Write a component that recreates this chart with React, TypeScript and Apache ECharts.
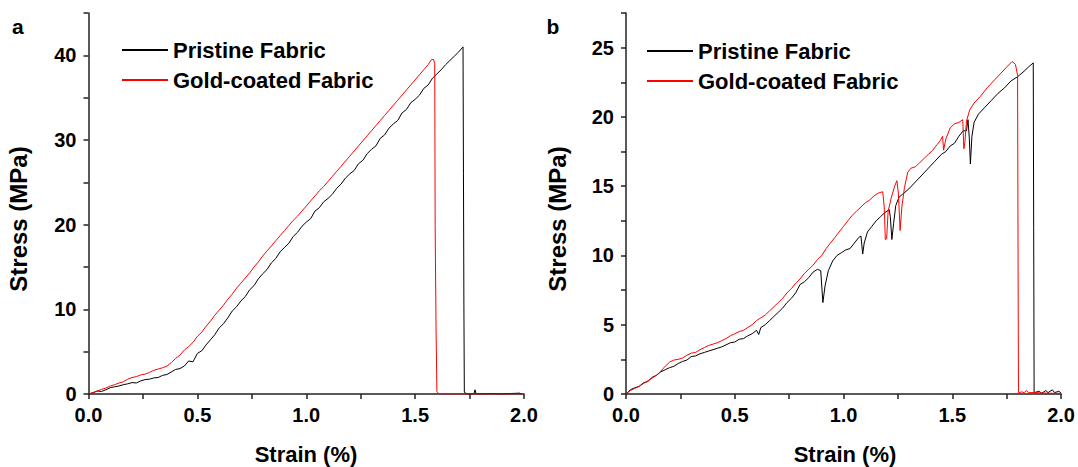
import React, { useEffect, useRef } from "react";
import * as echarts from "echarts";

const FONT = '"Liberation Sans", Arial, Helvetica, sans-serif';

const seriesNames = ["Pristine Fabric", "Gold-coated Fabric"];
const xTickLabels = ["0.0", "0.5", "1.0", "1.5", "2.0"];
const yTickLabelsA = [0, 10, 20, 30, 40];
const yTickLabelsB = [0, 5, 10, 15, 20, 25];

// Panel a — Pristine Fabric
const aPristineStrain = [
  0, 0.02, 0.04, 0.06, 0.08, 0.1, 0.12, 0.14, 0.16, 0.18, 0.2, 0.22, 0.24, 0.26, 0.28, 0.3, 0.32, 0.34, 0.36, 0.38,
  0.4, 0.42, 0.44, 0.46, 0.48, 0.5, 0.52, 0.54, 0.56, 0.58, 0.6, 0.62, 0.64, 0.66, 0.68, 0.7, 0.72, 0.74, 0.76, 0.78,
  0.8, 0.82, 0.84, 0.86, 0.88, 0.9, 0.92, 0.94, 0.96, 0.98, 1.0, 1.02, 1.04, 1.06, 1.08, 1.1, 1.12, 1.14, 1.16, 1.18,
  1.2, 1.22, 1.24, 1.26, 1.28, 1.3, 1.32, 1.34, 1.36, 1.38, 1.4, 1.42, 1.44, 1.46, 1.48, 1.5, 1.52, 1.54, 1.56, 1.58,
  1.6, 1.62, 1.64, 1.66, 1.68, 1.7, 1.72, 1.722, 1.724, 1.726, 1.74, 1.77, 1.775, 1.78, 1.87, 1.88, 1.98, 1.99,
];
const aPristineStress = [
  0, 0.15, 0.35, 0.3, 0.5, 0.75, 0.85, 0.95, 1.1, 1.2, 1.35, 1.3, 1.55, 1.7, 1.75, 1.9, 1.95, 2.2, 2.3, 2.6,
  2.9, 3.0, 3.3, 3.9, 3.8, 4.8, 5.1, 5.8, 6.4, 7.0, 7.8, 8.3, 9.0, 9.8, 10.3, 11.0, 11.5, 12.3, 12.8, 13.6,
  14.2, 14.7, 15.5, 16.0, 16.8, 17.3, 17.8, 18.6, 19.1, 19.8, 20.3, 20.7, 21.6, 22.0, 22.7, 23.1, 23.6, 24.3, 24.8, 25.5,
  26.0, 26.4, 27.2, 27.6, 28.4, 28.9, 29.3, 30.2, 30.6, 31.4, 31.9, 32.3, 33.2, 33.6, 34.4, 34.8, 35.3, 36.1, 36.5, 37.3,
  37.8, 38.3, 38.9, 39.4, 39.9, 40.4, 41.0, 26, 10.5, 0.2, 0, 0, 0.5, 0, 0.05, 0, 0.1, 0,
];

// Panel a — Gold-coated Fabric
const aGoldStrain = [
  0, 0.02, 0.04, 0.06, 0.08, 0.1, 0.12, 0.14, 0.16, 0.18, 0.2, 0.22, 0.24, 0.26, 0.28, 0.3, 0.32, 0.34, 0.36, 0.38,
  0.4, 0.42, 0.44, 0.46, 0.48, 0.5, 0.52, 0.54, 0.56, 0.58, 0.6, 0.62, 0.64, 0.66, 0.68, 0.7, 0.72, 0.74, 0.76, 0.78,
  0.8, 0.82, 0.84, 0.86, 0.88, 0.9, 0.92, 0.94, 0.96, 0.98, 1.0, 1.02, 1.04, 1.06, 1.08, 1.1, 1.12, 1.14, 1.16, 1.18,
  1.2, 1.22, 1.24, 1.26, 1.28, 1.3, 1.32, 1.34, 1.36, 1.38, 1.4, 1.42, 1.44, 1.46, 1.48, 1.5, 1.52, 1.54, 1.56, 1.575,
  1.585, 1.59, 1.592, 1.596, 1.6, 1.61, 2.0,
];
const aGoldStress = [
  0, 0.15, 0.35, 0.55, 0.7, 0.95, 1.1, 1.3, 1.45, 1.75, 1.95, 2.05, 2.25, 2.35, 2.55, 2.8, 2.95, 3.1, 3.3, 3.7,
  4.2, 4.6, 5.2, 5.6, 6.1, 6.8, 7.3, 8.0, 8.6, 9.3, 9.9, 10.5, 11.2, 11.8, 12.5, 13.1, 13.7, 14.3, 15.0, 15.6,
  16.3, 16.9, 17.5, 18.1, 18.7, 19.3, 19.9, 20.5, 21.0, 21.6, 22.2, 22.8, 23.4, 24.0, 24.5, 25.1, 25.7, 26.3, 26.9, 27.5,
  28.1, 28.7, 29.3, 29.9, 30.5, 31.1, 31.7, 32.3, 32.9, 33.5, 34.1, 34.7, 35.3, 35.9, 36.5, 37.1, 37.7, 38.3, 38.9, 39.5,
  39.5, 39.0, 20, 8, 0.3, 0, 0,
];

// Panel b — Pristine Fabric
const bPristineStrain = [
  0, 0.02, 0.04, 0.06, 0.08, 0.1, 0.12, 0.14, 0.16, 0.18, 0.2, 0.22, 0.24, 0.26, 0.28, 0.3, 0.32, 0.34, 0.36, 0.38,
  0.4, 0.42, 0.44, 0.46, 0.48, 0.5, 0.52, 0.54, 0.56, 0.58, 0.6, 0.61, 0.62, 0.64, 0.66, 0.68, 0.7, 0.72, 0.74, 0.76,
  0.78, 0.8, 0.82, 0.84, 0.86, 0.88, 0.895, 0.905, 0.915, 0.93, 0.95, 0.97, 0.99, 1.01, 1.03, 1.05, 1.07, 1.08, 1.088, 1.095,
  1.11, 1.13, 1.15, 1.17, 1.19, 1.21, 1.215, 1.222, 1.23, 1.24, 1.255, 1.27, 1.3, 1.33, 1.36, 1.39, 1.42, 1.45, 1.47, 1.49,
  1.51, 1.53, 1.55, 1.565, 1.572, 1.578, 1.583, 1.59, 1.6, 1.62, 1.65, 1.68, 1.71, 1.74, 1.77, 1.8, 1.83, 1.85, 1.872, 1.874,
  1.876, 1.9, 1.91, 1.93, 1.94, 1.96, 1.97, 1.99, 2.0,
];
const bPristineStress = [
  0, 0.3, 0.45, 0.55, 0.8, 0.9, 1.2, 1.35, 1.6, 1.75, 1.9, 2.0, 2.2, 2.35, 2.45, 2.7, 2.75, 2.9, 3.0, 3.1,
  3.2, 3.3, 3.4, 3.55, 3.7, 3.75, 3.95, 4.0, 4.2, 4.35, 4.6, 4.3, 4.8, 5.0, 5.3, 5.6, 5.9, 6.2, 6.6, 6.9,
  7.3, 7.9, 8.1, 8.4, 8.8, 9.0, 8.9, 6.6, 7.8, 8.9, 9.6, 10.0, 10.2, 10.4, 10.5, 10.9, 11.3, 11.4, 10.1, 10.9,
  11.7, 12.1, 12.5, 12.8, 13.1, 13.3, 12.8, 11.15, 12.3, 13.6, 14.2, 14.4, 14.8, 15.3, 15.8, 16.3, 16.8, 17.3, 17.5, 17.9,
  18.1, 18.6, 19.0, 19.0, 19.8, 18.5, 16.6, 18.6, 19.6, 20.2, 20.7, 21.2, 21.7, 22.1, 22.6, 22.9, 23.3, 23.6, 23.9, 12,
  0.1, 0.2, 0.05, 0.25, 0.1, 0.3, 0.1, 0.2, 0.05,
];

// Panel b — Gold-coated Fabric
const bGoldStrain = [
  0, 0.02, 0.04, 0.06, 0.08, 0.1, 0.12, 0.14, 0.16, 0.18, 0.2, 0.22, 0.24, 0.26, 0.28, 0.3, 0.32, 0.34, 0.36, 0.38,
  0.4, 0.42, 0.44, 0.46, 0.48, 0.5, 0.52, 0.54, 0.56, 0.58, 0.6, 0.62, 0.64, 0.66, 0.68, 0.7, 0.72, 0.74, 0.76, 0.78,
  0.8, 0.82, 0.84, 0.86, 0.88, 0.9, 0.92, 0.94, 0.96, 0.98, 1.0, 1.02, 1.04, 1.06, 1.08, 1.1, 1.12, 1.14, 1.16, 1.18,
  1.187, 1.192, 1.198, 1.205, 1.22, 1.235, 1.245, 1.252, 1.26, 1.268, 1.28, 1.295, 1.31, 1.33, 1.35, 1.37, 1.39, 1.41, 1.43, 1.445,
  1.455, 1.46, 1.47, 1.49, 1.51, 1.53, 1.548, 1.553, 1.558, 1.565, 1.58, 1.6, 1.63, 1.66, 1.69, 1.72, 1.75, 1.775, 1.79, 1.8,
  1.802, 1.804, 1.82, 1.83, 1.84, 1.85, 1.88, 1.95, 2.0,
];
const bGoldStress = [
  0, 0.25, 0.4, 0.55, 0.75, 0.95, 1.15, 1.35, 1.65, 2.0, 2.3, 2.45, 2.5, 2.6, 2.8, 2.95, 3.0, 3.2, 3.35, 3.5,
  3.6, 3.7, 3.85, 4.0, 4.2, 4.35, 4.5, 4.6, 4.8, 5.0, 5.3, 5.5, 5.7, 6.0, 6.3, 6.6, 6.9, 7.3, 7.6, 8.0,
  8.3, 8.7, 9.0, 9.3, 9.7, 10.0, 10.5, 10.9, 11.3, 11.7, 12.1, 12.5, 12.9, 13.2, 13.5, 13.8, 14.0, 14.3, 14.5, 14.6,
  13.5, 11.15, 11.2, 13.2, 14.2, 15.0, 15.4, 14.5, 11.8, 13.5, 14.9, 16.0, 16.3, 16.4, 16.7, 17.0, 17.3, 17.6, 18.0, 18.3,
  18.6, 17.6, 18.4, 19.2, 19.5, 19.6, 19.8, 17.7, 18.2, 19.7, 20.5, 21.0, 21.5, 22.1, 22.6, 23.1, 23.6, 24.0, 23.8, 23.0,
  11, 0.1, 0.15, 0.1, 0.25, 0.1, 0.1, 0.05, 0.05,
];

const zip = (xs: number[], ys: number[]) => xs.map((x, i) => [x, ys[i]]);

const AXIS_COLOR = "#222";

function xAxisFor(gridIndex: number) {
  return {
    gridIndex,
    type: "value",
    min: 0,
    max: 2,
    interval: 0.25,
    axisLine: { show: true, onZero: false, lineStyle: { color: AXIS_COLOR, width: 1.5 } },
    axisTick: { show: true, inside: false, length: 5, lineStyle: { color: AXIS_COLOR, width: 1.5 } },
    splitLine: { show: false },
    axisLabel: {
      margin: 11,
      color: "#000",
      fontFamily: FONT,
      fontWeight: "bold",
      fontSize: 20,
      interval: 0,
      hideOverlap: false,
      showMinLabel: true,
      showMaxLabel: true,
      formatter: (v: number) => {
        const s = v.toFixed(1);
        return Math.abs(v * 2 - Math.round(v * 2)) < 1e-6 && xTickLabels.includes(s) ? s : "";
      },
    },
  };
}

function yAxisFor(gridIndex: number, max: number, interval: number, labels: number[]) {
  return {
    gridIndex,
    type: "value",
    min: 0,
    max,
    interval,
    axisLine: { show: true, onZero: false, lineStyle: { color: AXIS_COLOR, width: 1.5 } },
    axisTick: { show: true, inside: false, length: 5, lineStyle: { color: AXIS_COLOR, width: 1.5 } },
    splitLine: { show: false },
    axisLabel: {
      margin: 12,
      color: "#000",
      fontFamily: FONT,
      fontWeight: "bold",
      fontSize: 20,
      interval: 0,
      hideOverlap: false,
      showMaxLabel: true,
      formatter: (v: number) => {
        const hit = labels.find((l) => Math.abs(l - v) < 1e-6);
        return hit === undefined ? "" : String(hit);
      },
    },
  };
}

function lineSeries(name: string, color: string, xi: number, data: number[][]) {
  return {
    name,
    type: "line",
    xAxisIndex: xi,
    yAxisIndex: xi,
    data,
    symbol: "none",
    showSymbol: false,
    clip: true,
    lineStyle: { color, width: 1 },
    itemStyle: { color },
    emphasis: { disabled: true },
  };
}

function legendFor(left: number, top: number) {
  return {
    data: seriesNames,
    orient: "vertical",
    left,
    top,
    padding: 0,
    itemGap: 8,
    itemWidth: 46,
    itemHeight: 2,
    icon: "rect",
    selectedMode: false,
    textStyle: { color: "#000", fontFamily: FONT, fontWeight: "bold", fontSize: 22, lineHeight: 22 },
  };
}

export default function App() {
  const ref = useRef<HTMLDivElement>(null);

  useEffect(() => {
    if (!ref.current) return;
    const chart = echarts.init(ref.current, null, { renderer: "svg" });
    const option = {
      animation: false,
      backgroundColor: "#fff",
      grid: [
        { left: 88.5, top: 13, width: 435.5, height: 381 },
        { left: 626, top: 13, width: 437, height: 381 },
      ],
      xAxis: [xAxisFor(0), xAxisFor(1)],
      yAxis: [yAxisFor(0, 45, 5, yTickLabelsA), yAxisFor(1, 27.5, 2.5, yTickLabelsB)],
      legend: [legendFor(122, 39), legendFor(647, 40)],
      series: [
        lineSeries(seriesNames[0], "#000000", 0, zip(aPristineStrain, aPristineStress)),
        lineSeries(seriesNames[1], "#ff0000", 0, zip(aGoldStrain, aGoldStress)),
        lineSeries(seriesNames[0], "#000000", 1, zip(bPristineStrain, bPristineStress)),
        lineSeries(seriesNames[1], "#ff0000", 1, zip(bGoldStrain, bGoldStress)),
      ],
      graphic: [
        { type: "text", x: 12, y: 26, style: { text: "a", font: `bold 21px ${FONT}`, fill: "#000", verticalAlign: "middle", align: "left" } },
        { type: "text", x: 546.5, y: 26, style: { text: "b", font: `bold 21px ${FONT}`, fill: "#000", verticalAlign: "middle", align: "left" } },
        { type: "text", x: 306, y: 454, style: { text: "Strain (%)", font: `bold 22px ${FONT}`, fill: "#000", verticalAlign: "middle", align: "center" } },
        { type: "text", x: 845, y: 454, style: { text: "Strain (%)", font: `bold 22px ${FONT}`, fill: "#000", verticalAlign: "middle", align: "center" } },
        { type: "text", x: 18.7, y: 219, rotation: Math.PI / 2, style: { text: "Stress (MPa)", font: `bold 24px ${FONT}`, fill: "#000", verticalAlign: "middle", align: "center" } },
        { type: "text", x: 557.7, y: 219, rotation: Math.PI / 2, style: { text: "Stress (MPa)", font: `bold 24px ${FONT}`, fill: "#000", verticalAlign: "middle", align: "center" } },
      ],
    };
    chart.setOption(option as any);
    return () => chart.dispose();
  }, []);

  return <div ref={ref} style={{ position: "absolute", left: 0, top: 0, width: 1078, height: 467 }} />;
}
